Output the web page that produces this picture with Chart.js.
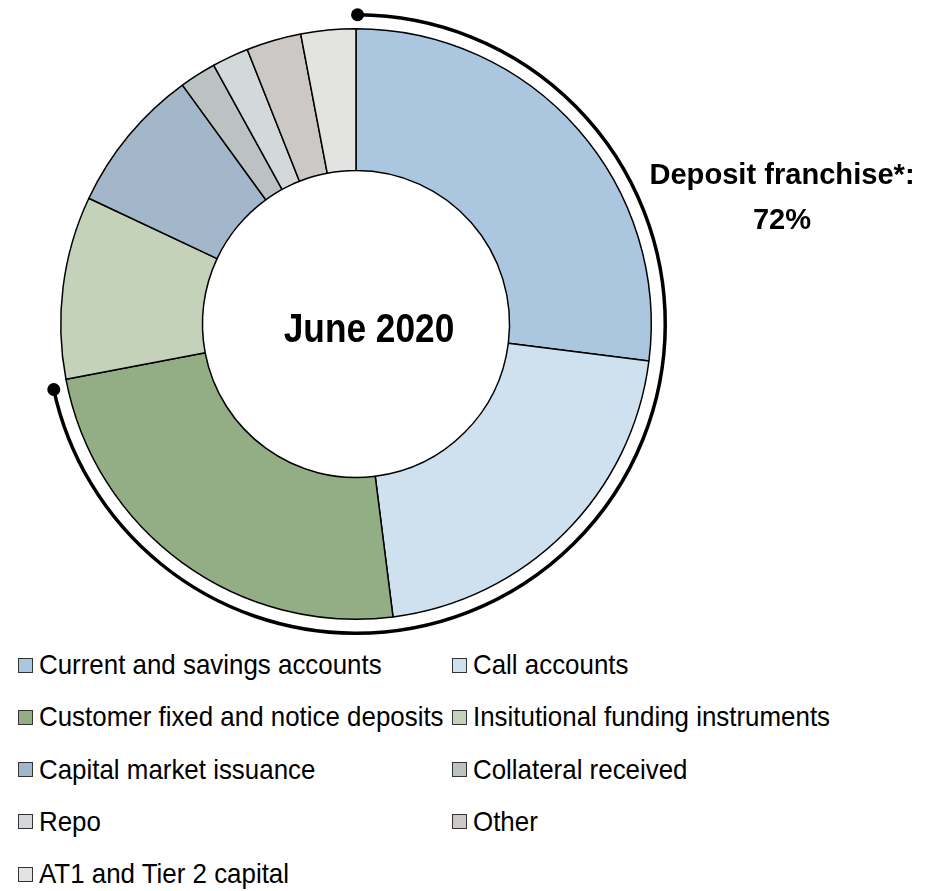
<!DOCTYPE html>
<html>
<head>
<meta charset="utf-8">
<script src="https://cdn.jsdelivr.net/npm/chart.js@4.4.1/dist/chart.umd.min.js"></script>
<style>
  html, body { margin: 0; padding: 0; background: #fff; }
  body { width: 944px; height: 891px; position: relative; overflow: hidden;
         font-family: 'Liberation Sans', Arial, sans-serif; }
  #wrap { position: absolute; left: 0; top: 0; width: 944px; height: 640px; }
  #legend { position: absolute; left: 18px; top: 641px; width: 920px;
            display: grid; grid-template-columns: 434px 480px; grid-auto-rows: 52.3px;
            font-size: 28px; color: #000; }
  .item { display: flex; align-items: center; height: 48px; white-space: nowrap; }
  .box { width: 13px; height: 13px; border: 1.5px solid #333; margin-right: 6px; flex: none; }
  .name { display: inline-block; transform: scaleX(0.925); transform-origin: left center; }
</style>
</head>
<body>
<div id="wrap"><canvas id="canvas1"></canvas></div>
<div id="legend"></div>
<script>
const labels = [
  'Current and savings accounts',
  'Call accounts',
  'Customer fixed and notice deposits',
  'Insitutional funding instruments',
  'Capital market issuance',
  'Collateral received',
  'Repo',
  'Other',
  'AT1 and Tier 2 capital'
];
const shares = [27, 21, 24, 10, 8, 2, 2, 3, 3];
const colors = ['#abc7e0', '#cfe0ef', '#93ae84', '#c4d2ba', '#a2b7c9', '#bcc1c2', '#d3d9db', '#cbc8c5', '#e3e3e2'];
// first three slices make up the deposit franchise
const depositCount = 3;
const centerTitle = 'June 2020';

const font = "'Liberation Sans', Arial, sans-serif";

// text squeezed horizontally to get a condensed look
function narrowText(ctx, text, x, y, sx) {
  ctx.save();
  ctx.translate(x, y);
  ctx.scale(sx, 1);
  ctx.fillText(text, 0, 0);
  ctx.restore();
}

// bracket over the deposit slices plus the labels
const overlay = {
  id: 'overlay',
  afterDraw(chart) {
    const ctx = chart.ctx;
    const meta = chart.getDatasetMeta(0);
    const first = meta.data[0];
    const last = meta.data[depositCount - 1];
    const cx = first.x, cy = first.y;
    const r = first.outerRadius + 14;
    const a0 = first.startAngle + 0.005;
    const a1 = last.endAngle - 0.025;

    ctx.save();
    ctx.strokeStyle = '#000';
    ctx.fillStyle = '#000';
    ctx.lineWidth = 3.5;
    ctx.beginPath();
    ctx.arc(cx, cy, r, a0, a1);
    ctx.stroke();
    [a0, a1].forEach(a => {
      ctx.beginPath();
      ctx.arc(cx + r * Math.cos(a), cy + r * Math.sin(a), 6.5, 0, Math.PI * 2);
      ctx.fill();
    });

    ctx.textAlign = 'center';
    ctx.textBaseline = 'middle';
    ctx.font = 'bold 41px ' + font;
    narrowText(ctx, centerTitle, cx + 13, cy + 7, 0.86);

    const total = shares.slice(0, depositCount).reduce((s, v) => s + v, 0);
    ctx.font = 'bold 30px ' + font;
    narrowText(ctx, 'Deposit franchise*:', 782, 176, 0.97);
    narrowText(ctx, total + '%', 782, 221, 0.97);
    ctx.restore();
  }
};

const canvas1 = document.getElementById('canvas1');
const chart1 = new Chart(canvas1.getContext('2d'), {
  type: 'doughnut',
  data: {
    labels: labels,
    datasets: [{
      data: shares,
      backgroundColor: colors,
      borderColor: '#000',
      borderWidth: 1.5
    }]
  },
  options: {
    responsive: true,
    maintainAspectRatio: false,
    animation: false,
    cutout: '52%',
    layout: { padding: { left: 60, top: 28, right: 292, bottom: 20 } },
    plugins: {
      legend: { display: false },
      tooltip: { enabled: false }
    }
  },
  plugins: [overlay]
});

// two-column legend under the ring
const legend = document.getElementById('legend');
labels.forEach((name, i) => {
  const item = document.createElement('div');
  item.className = 'item';
  const box = document.createElement('span');
  box.className = 'box';
  box.style.background = colors[i];
  const txt = document.createElement('span');
  txt.className = 'name';
  txt.textContent = name;
  item.appendChild(box);
  item.appendChild(txt);
  legend.appendChild(item);
});
</script>
</body>
</html>
